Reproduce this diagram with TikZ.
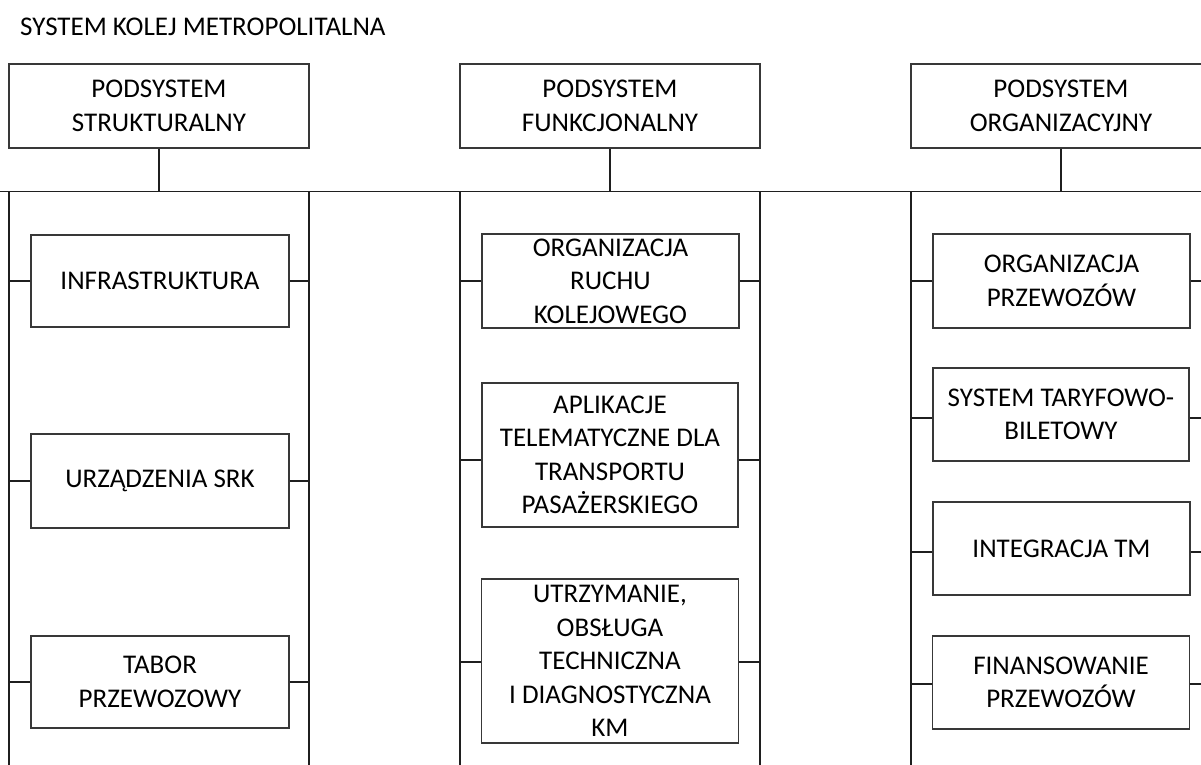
\documentclass[tikz,border=0pt]{standalone}
\usepackage{fontspec}
\setmainfont{Carlito}
\begin{document}
\begin{tikzpicture}[x=1pt,y=-1pt,
  every node/.style={font=\fontsize{27}{33.5}\selectfont},
  frame/.style={draw=black!78, line width=1.2pt, align=center, inner sep=0pt},
  topbox/.style={frame, minimum width=300pt, minimum height=84pt},
  itembox/.style={frame, minimum width=257pt, minimum height=93pt},
  link/.style={draw=black!88, line width=1.2pt}]
\clip (0,0) rectangle (1201,764);
\fill[white] (0,0) rectangle (1201,764);

% title
\node[anchor=base west, inner sep=0pt] (title) at (20,35) {SYSTEM KOLEJ METROPOLITALNA};

% subsystem headers
\node[topbox] (ps) at (159,106) {PODSYSTEM\\STRUKTURALNY};
\node[topbox] (pf) at (610,106) {PODSYSTEM\\FUNKCJONALNY};
\node[topbox] (po) at (1061,106) {PODSYSTEM\\ORGANIZACYJNY};

% horizontal bus and column rails
\coordinate (busL) at (0,191.5);
\coordinate (busR) at (1201,191.5);
\coordinate (l1) at (9,191.5);
\coordinate (r1) at (309,191.5);
\coordinate (l2) at (460,191.5);
\coordinate (r2) at (760,191.5);
\coordinate (l3) at (911,191.5);
\coordinate (r3) at (1211,191.5);

\draw[link] (busL) -- (busR);
\foreach \c in {ps,pf,po}
  \draw[link] (\c.south) -- (\c.south |- busL);
\foreach \c in {l1,r1,l2,r2,l3,r3}
  \draw[link] (\c) -- ++(0,590);

% structural column
\node[itembox, minimum width=258pt, minimum height=92pt] (infra) at (160,281) {INFRASTRUKTURA};
\node[itembox, minimum width=258pt, minimum height=94pt] (srk) at (160,481) {URZĄDZENIA SRK};
\node[itembox, minimum width=258pt, minimum height=92pt] (tabor) at (160,682) {TABOR\\PRZEWOZOWY};

% functional column
\node[itembox, minimum height=94pt] (ruch) at (610.5,281) {ORGANIZACJA\\RUCHU\\KOLEJOWEGO};
\node[itembox, minimum width=256pt, minimum height=144pt] (apl) at (610,455) {APLIKACJE\\TELEMATYCZNE DLA\\TRANSPORTU\\PASAŻERSKIEGO};
\node[itembox, minimum height=164pt] (utrz) at (610,661) {UTRZYMANIE,\\OBSŁUGA\\TECHNICZNA\\I DIAGNOSTYCZNA\\KM};

% organisational column
\node[itembox, minimum height=94pt] (przew) at (1061.5,281) {ORGANIZACJA\\PRZEWOZÓW};
\node[itembox, minimum width=256pt] (taryf) at (1061,414.5) {SYSTEM TARYFOWO-\\BILETOWY};
\node[itembox] (integ) at (1061.5,548.5) {INTEGRACJA TM};
\node[itembox] (finans) at (1061,682.5) {FINANSOWANIE\\PRZEWOZÓW};

% side links to the rails (offset from the box centre where needed)
\foreach \b/\l/\r/\d in {infra/l1/r1/0, srk/l1/r1/0, tabor/l1/r1/0,
                        ruch/l2/r2/0, apl/l2/r2/5, utrz/l2/r2/1,
                        przew/l3/r3/0, taryf/l3/r3/3.5, integ/l3/r3/3.5, finans/l3/r3/1.5}
{
  \draw[link] ([yshift=-\d pt]\b.west) -- ([yshift=-\d pt]\b.west -| \l);
  \draw[link] ([yshift=-\d pt]\b.east) -- ([yshift=-\d pt]\b.east -| \r);
}
\end{tikzpicture}
\end{document}
